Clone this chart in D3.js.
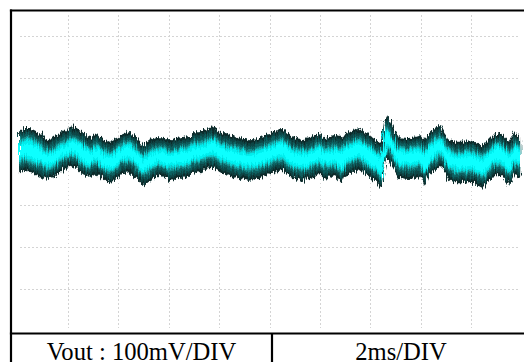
<!DOCTYPE html>
<html><head><meta charset="utf-8">
<script src="https://cdn.jsdelivr.net/npm/d3@7"></script>
<style>html,body{margin:0;padding:0;background:#fff;}svg{display:block;}</style>
</head><body>
<svg id="c" width="524" height="362"></svg>
<script>
// time (ms) of each read point
const timeMs = [0.06,0.29,0.49,0.89,1.17,1.40,1.68,1.92,2.00,2.08,2.28,2.60,2.87,3.15,3.39,3.67,3.99,4.18,4.46,4.75,4.98,5.25,5.53,5.77,6.05,6.25,6.44,6.84,6.96,7.25,7.52,7.75,8.03,8.43,8.83,9.22,9.62,10.10,10.49,10.89,11.29,11.68,11.96,12.20,12.60,12.88,13.00,13.27,13.55,13.95,14.22,14.38,14.46,14.54,14.66,14.78,14.94,15.13,15.53,15.93,16.17,16.33,16.57,16.76,16.96,17.12,17.40,17.63,17.95,18.15,18.43,18.55,18.75,18.95,19.15,19.34,19.50,19.74,19.94];
// upper envelope (mV)
const vTop = [75,82,82,70,53,58,70,77,75,87,84,70,58,70,53,49,60,70,75,58,41,53,60,60,53,58,60,63,72,72,79,87,72,65,58,53,60,72,82,60,53,60,70,58,65,60,70,75,82,65,53,46,51,96,110,96,77,60,58,65,53,70,82,89,70,53,49,49,53,49,41,46,58,70,70,60,49,72,60];
// lower envelope (mV)
const vBot = [-23,-18,-23,-34,-41,-37,-23,-13,-18,-8,-13,-30,-37,-25,-41,-49,-37,-25,-23,-41,-56,-44,-32,-34,-44,-39,-37,-34,-25,-23,-15,-11,-23,-32,-39,-44,-37,-25,-18,-37,-44,-37,-27,-39,-32,-51,-32,-25,-18,-34,-46,-58,-63,-30,11,-1,-18,-37,-39,-34,-56,-30,-18,-8,-23,-41,-49,-49,-46,-51,-60,-56,-41,-30,-30,-39,-56,-27,-37];
const xTicks = [2,4,6,8,10,12,14,16,18];
const yTicks = [-300,-200,-100,0,100,200,300];
const labelLeft = "Vout : 100mV/DIV";
const labelRight = "2ms/DIV";

const svg = d3.select("#c");
const x = d3.scaleLinear().domain([0,20]).range([17.6,521.6]);
const y = d3.scaleLinear().domain([-300,300]).range([289,36]);

const defs = svg.append("defs");
defs.append("clipPath").attr("id","plot").append("rect")
  .attr("x",12).attr("y",12).attr("width",512).attr("height",320);
const f = defs.append("filter").attr("id","fuzz")
  .attr("x","-2%").attr("y","-30%").attr("width","104%").attr("height","160%");
f.append("feTurbulence").attr("type","fractalNoise").attr("baseFrequency","0.9 0.07")
  .attr("numOctaves",2).attr("seed",7).attr("result","n");
f.append("feDisplacementMap").attr("in","SourceGraphic").attr("in2","n")
  .attr("scale",9).attr("xChannelSelector","R").attr("yChannelSelector","G");

// grid
const gx = svg.append("g").attr("transform","translate(0,15)")
  .call(d3.axisTop(x).tickValues(xTicks).tickSize(-313).tickFormat(""));
const gy = svg.append("g").attr("transform","translate(20,0)")
  .call(d3.axisLeft(y).tickValues(yTicks).tickSize(-500).tickFormat(""));
[gx,gy].forEach(g=>{
  g.select(".domain").remove();
  g.selectAll(".tick line").attr("stroke","#d4d4d4").attr("stroke-width",1)
    .attr("stroke-dasharray","1.5,2.5").attr("shape-rendering","crispEdges");
});

// waveform band
const data = timeMs.map((t,i)=>({t, hi:vTop[i], lo:vBot[i]}));
const band = svg.append("g").attr("clip-path","url(#plot)")
  .append("g").attr("filter","url(#fuzz)");
const layers = [
  {inset:0, fill:"#082c2c"},
  {inset:3, fill:"#0c4444"},
  {inset:6, fill:"#106060"},
  {inset:9, fill:"#148c8c"},
  {inset:11, fill:"#10c4c4"},
  {inset:13, fill:"#00eeee"},
  {inset:16, fill:"#10ffff"}
];
layers.forEach(L=>{
  const area = d3.area()
    .x(d=>x(d.t))
    .y0(d=>{const a=y(d.lo)-L.inset, b=y(d.hi)+L.inset; return Math.max(a,(a+b)/2);})
    .y1(d=>{const a=y(d.lo)-L.inset, b=y(d.hi)+L.inset; return Math.min(b,(a+b)/2);});
  band.append("path").datum(data).attr("d",area).attr("fill",L.fill);
});

// frame
const ln = (x1,y1,x2,y2)=>svg.append("line").attr("x1",x1).attr("y1",y1).attr("x2",x2).attr("y2",y2)
  .attr("stroke","#000").attr("stroke-width",2.2);
ln(9.9,10.5,524,10.5);
ln(11,9.5,11,362);
ln(9.9,333.5,524,333.5);
ln(272,333,272,362);

svg.append("text").attr("x",141.5).attr("y",360).attr("text-anchor","middle")
  .attr("font-family","Liberation Serif, Times New Roman, serif").attr("font-size",24.6)
  .attr("fill","#000").text(labelLeft);
svg.append("text").attr("x",401).attr("y",360).attr("text-anchor","middle")
  .attr("font-family","Liberation Serif, Times New Roman, serif").attr("font-size",24.6)
  .attr("fill","#000").text(labelRight);
</script>
</body></html>
